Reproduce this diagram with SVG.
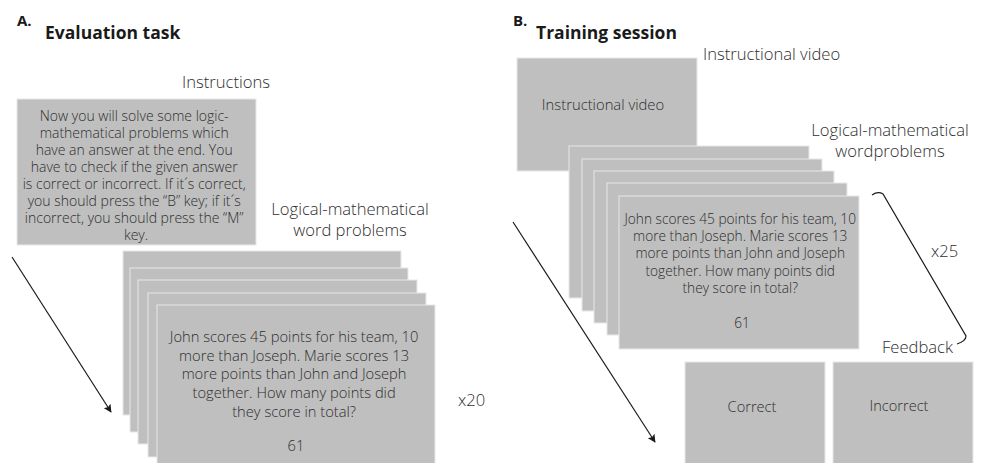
<svg xmlns="http://www.w3.org/2000/svg" width="981" height="463" viewBox="0 0 981 463">
  <style>
    .card { fill: #bfbfbf; stroke: #e8e8e8; stroke-width: 1; }
    .head { font-family: "Open Sans", "Noto Sans", sans-serif; font-weight: bold; fill: #1a1a1a; }
    .tag { font-family: "Open Sans", "Noto Sans", sans-serif; font-weight: bold; fill: #1a1a1a; font-size: 15px; }
    .label { font-family: "Open Sans", "Noto Sans", sans-serif; font-weight: 300; font-size: 16.6px; fill: #2e2e2e; }
    .body { font-family: "Open Sans", "Noto Sans", sans-serif; font-weight: 300; fill: #2e2e2e; text-anchor: middle; }
    .link { fill: none; stroke: #1a1a1a; stroke-width: 1.2; }
  </style>
  <defs>
    <marker id="arrow" viewBox="0 0 10 10" refX="9" refY="5" markerWidth="8" markerHeight="8" orient="auto" markerUnits="userSpaceOnUse">
      <path d="M0,0 L10,5 L0,10 L2,5 Z" fill="#1a1a1a"/>
    </marker>
  </defs>

  <rect width="981" height="463" fill="#ffffff"/>

  <!-- Panel A: evaluation task -->
  <g id="title-a">
    <text class="tag" x="17" y="26">A.</text>
    <text class="head" x="45" y="39" font-size="17.5">Evaluation task</text>
  </g>

  <g id="instructions">
    <text class="label" x="226" y="88" text-anchor="middle">Instructions</text>
    <rect class="card" x="17" y="99" width="239" height="146"/>
    <text class="body" font-size="14">
      <tspan x="136" y="121">Now you will solve some logic-</tspan>
      <tspan x="136" y="138">mathematical problems which</tspan>
      <tspan x="136" y="155">have an answer at the end. You</tspan>
      <tspan x="136" y="172">have to check if the given answer</tspan>
      <tspan x="136" y="189">is correct or incorrect. If it´s correct,</tspan>
      <tspan x="136" y="206">you should press the “B” key; if it´s</tspan>
      <tspan x="136" y="223">incorrect, you should press the “M”</tspan>
      <tspan x="136" y="240">key.</tspan>
    </text>
  </g>

  <g id="problems-a">
    <text class="label" x="350" y="215" text-anchor="middle">Logical-mathematical</text>
    <text class="label" x="350" y="236" text-anchor="middle">word problems</text>
    <rect class="card" x="123" y="251" width="278" height="164"/>
    <rect class="card" x="130" y="268" width="278" height="164"/>
    <rect class="card" x="138" y="280" width="279" height="164"/>
    <rect class="card" x="148" y="293" width="278" height="164"/>
    <rect class="card" x="157" y="305" width="278" height="164"/>
    <text class="body" font-size="14.7">
      <tspan x="296" y="342">John scores 45 points for his team, 10</tspan>
      <tspan x="296" y="361">more than Joseph. Marie scores 13</tspan>
      <tspan x="296" y="379">more points than John and Joseph</tspan>
      <tspan x="296" y="398">together.  How many points did</tspan>
      <tspan x="296" y="417">they score in total?</tspan>
      <tspan x="296" y="451">61</tspan>
    </text>
    <text class="label" x="458" y="406">x20</text>
  </g>

  <!-- Panel B: training session -->
  <g id="title-b">
    <text class="tag" x="513" y="26">B.</text>
    <text class="head" x="536" y="39" font-size="17.5">Training session</text>
  </g>

  <g id="video">
    <text class="label" x="703" y="60">Instructional video</text>
    <rect class="card" x="517" y="58" width="180" height="113"/>
    <text class="body" x="603" y="110" font-size="14.8">Instructional video</text>
  </g>

  <g id="problems-b">
    <text class="label" x="890" y="136" text-anchor="middle">Logical-mathematical</text>
    <text class="label" x="890" y="157" text-anchor="middle">wordproblems</text>
    <rect class="card" x="569" y="146" width="240" height="152"/>
    <rect class="card" x="582" y="159" width="240" height="152"/>
    <rect class="card" x="594" y="171" width="240" height="152"/>
    <rect class="card" x="607" y="183" width="240" height="152"/>
    <rect class="card" x="619" y="196" width="240" height="153"/>
    <text class="body" font-size="13.7">
      <tspan x="742" y="224">John scores 45 points for his team, 10</tspan>
      <tspan x="742" y="241">more than Joseph. Marie scores 13</tspan>
      <tspan x="742" y="258">more points than John and Joseph</tspan>
      <tspan x="742" y="276">together.  How many points did</tspan>
      <tspan x="742" y="293">they score in total?</tspan>
      <tspan x="742" y="328">61</tspan>
    </text>
    <text class="label" x="931" y="257">x25</text>
  </g>

  <g id="feedback">
    <text class="label" x="882" y="353">Feedback</text>
    <rect class="card" x="685" y="362" width="140" height="110"/>
    <text class="body" x="752" y="412" font-size="14.6">Correct</text>
    <rect class="card" x="833" y="362" width="140" height="110"/>
    <text class="body" x="899" y="411" font-size="14.6">Incorrect</text>
  </g>

  <!-- time arrows and repetition brace -->
  <g id="connectors">
    <line class="link" x1="12" y1="257" x2="111" y2="412" marker-end="url(#arrow)"/>
    <line class="link" x1="513" y1="222" x2="655" y2="442" marker-end="url(#arrow)"/>
    <path class="link" stroke-width="1.6" d="M872,195 Q878,191 883,194 L966,336 Q966,341 957,344"/>
  </g>
</svg>
